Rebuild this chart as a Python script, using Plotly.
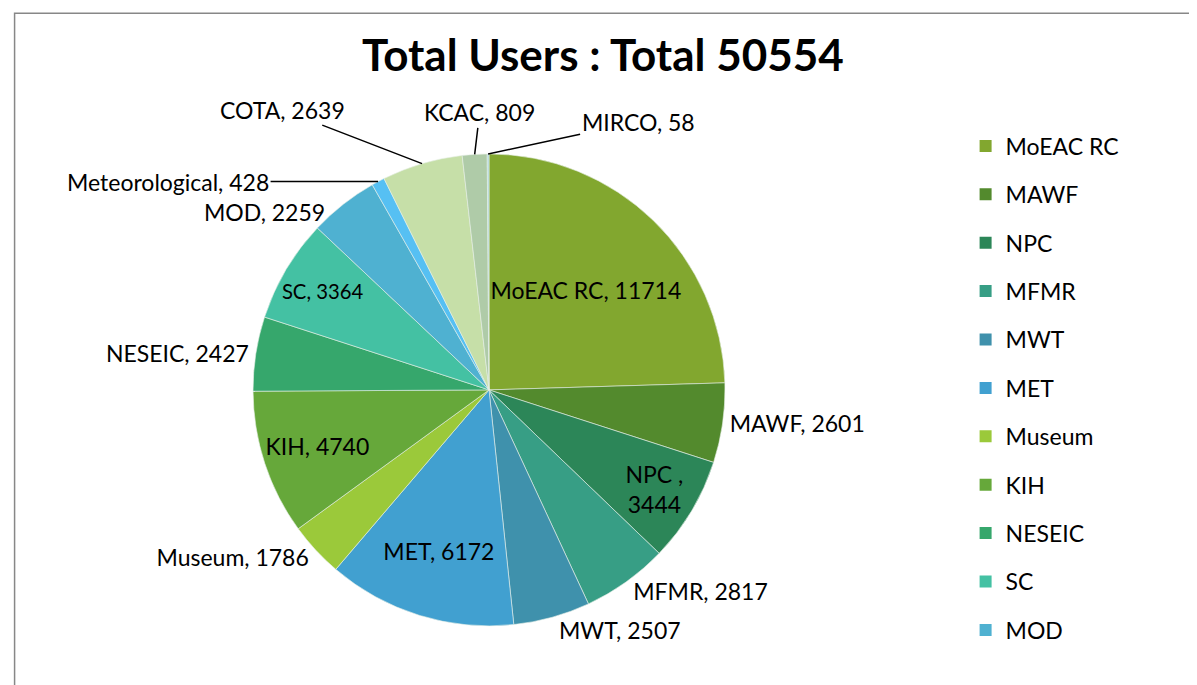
import math
import plotly.graph_objects as go

# slices, clockwise from 12 o'clock
labels = ["MoEAC RC", "MAWF", "NPC", "MFMR", "MWT", "MET", "Museum", "KIH",
          "NESEIC", "SC", "MOD", "Meteorological", "COTA", "KCAC", "MIRCO"]
users = [11714, 2601, 3444, 2817, 2507, 6172, 1786, 4740,
         2427, 3364, 2259, 428, 2639, 809, 58]
colors = ["#82A72F", "#538A2D", "#2C8658", "#379E85", "#3F91AC", "#41A0D0",
          "#9BC93A", "#66A83A", "#36A76C", "#44C1A3", "#4FB1D1", "#56C0F3",
          "#C6DFA8", "#AFCBA8", "#A9D4D8"]
positions = ["inside", "outside", "inside", "outside", "outside", "inside",
             "outside", "inside", "outside", "inside", "none", "none",
             "none", "none", "none"]
total_label = 50554
n_legend = 11  # legend is cut off after MOD in the original

# top slices get hand-placed labels: (dx, dy) offset in px, leader line or not
callouts = {"MOD": (-16, 8, False), "Meteorological": (-210, 0, True),
            "COTA": (-140, -54, True), "KCAC": (5, -42, True),
            "MIRCO": (150, -32, True)}

slice_text = [f"{l}, {v}" for l, v in zip(labels, users)]
slice_text[2] = "NPC ,<br>3444"

FONT = "Lato"
W, H = 1197, 685
DOM_X = [0.2047, 0.5990]
DOM_Y = [0.098, 0.787]

fig = go.Figure()
fig.add_trace(go.Pie(
    labels=labels,
    values=users,
    text=slice_text,
    textinfo="text",
    textposition=positions,
    insidetextorientation="horizontal",
    sort=False,
    direction="clockwise",
    rotation=0,
    marker=dict(colors=colors, line=dict(color="#E8F0E8", width=0.6)),
    textfont=dict(family=FONT, size=23, color="black"),
    insidetextfont=dict(family=FONT, size=23, color="black"),
    outsidetextfont=dict(family=FONT, size=23, color="black"),
    showlegend=False,
    hoverinfo="label+value",
    domain=dict(x=DOM_X, y=DOM_Y),
))

# callouts anchored at the slice edge, from the cumulative share of each slice
cx = (DOM_X[0] + DOM_X[1]) / 2 * W
cy = (1 - (DOM_Y[0] + DOM_Y[1]) / 2) * H
R = min((DOM_X[1] - DOM_X[0]) * W, (DOM_Y[1] - DOM_Y[0]) * H) / 2
tot = sum(users)
cum = 0
for lab, val, txt in zip(labels, users, slice_text):
    mid = (cum + val / 2) / tot * 2 * math.pi
    cum += val
    if lab not in callouts:
        continue
    px = cx + R * math.sin(mid)
    py = cy - R * math.cos(mid)
    dx, dy, line = callouts[lab]
    if line:
        fig.add_annotation(
            x=px / W, y=1 - py / H, xref="paper", yref="paper",
            text=txt, showarrow=True, arrowhead=0, arrowwidth=1.5,
            arrowcolor="black", ax=dx, ay=dy,
            font=dict(family=FONT, size=23, color="black"),
        )
    else:
        fig.add_annotation(
            x=px / W, y=1 - py / H, xref="paper", yref="paper",
            text=txt, showarrow=False, xanchor="right", yanchor="middle",
            xshift=dx, yshift=-dy,
            font=dict(family=FONT, size=23, color="black"),
        )

# legend entries as dummy markers so only the first eleven show
for i in range(n_legend):
    fig.add_trace(go.Scatter(
        x=[None], y=[None], mode="markers", name=labels[i],
        legendgroup=labels[i],
        marker=dict(symbol="square", size=14, color=colors[i]),
    ))

fig.update_layout(
    width=W, height=H,
    margin=dict(l=0, r=0, t=0, b=0),
    paper_bgcolor="white", plot_bgcolor="white",
    title=dict(text=f"<b>Total Users : Total {total_label}</b>",
               x=0.497, y=0.931, xanchor="center", yanchor="middle",
               font=dict(family=FONT, size=44, color="black")),
    xaxis=dict(visible=False), yaxis=dict(visible=False),
    legend=dict(x=0.80, y=0.83, xanchor="left", yanchor="top",
                font=dict(family=FONT, size=23, color="black"),
                tracegroupgap=15.5, itemsizing="constant",
                bgcolor="rgba(0,0,0,0)"),
    shapes=[dict(type="rect", xref="paper", yref="paper",
                 x0=0.0055, x1=1.02, y0=-0.02, y1=0.9925,
                 line=dict(color="#878787", width=1.5))],
)

fig.write_html("out.html")
